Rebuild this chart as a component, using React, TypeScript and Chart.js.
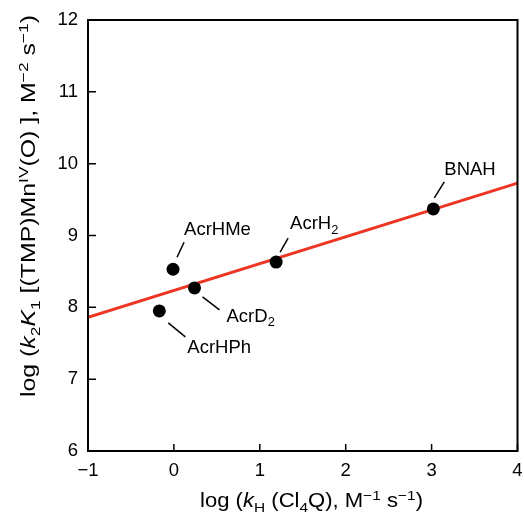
import React, { useEffect, useRef } from "react";
import { Chart, registerables } from "chart.js";

Chart.register(...registerables);

// ---- data ----
const compounds = ["AcrHPh", "AcrHMe", "AcrD2", "AcrH2", "BNAH"];
const logKH = [-0.17, -0.01, 0.24, 1.19, 3.02];
const logK2K1 = [7.95, 8.53, 8.27, 8.63, 9.37];
const fitX = [-1, 4];
const fitY = [7.86, 9.73];
const xTicks = [-1, 0, 1, 2, 3, 4];
const yTicks = [6, 7, 8, 9, 10, 11, 12];

// ---- style / layout ----
const FAMILY = '"Liberation Sans", Arial, Helvetica, sans-serif';
const FS = 18.5;
const TITLE_FS = 19.5;
// leader line [x1,y1,x2,y2] and text [left, centerY] offsets relative to the point (px)
const labelLayout: Record<string, { line: number[]; text: number[] }> = {
  AcrHPh: { line: [9, 12, 26, 26], text: [28, 35] },
  AcrHMe: { line: [4, -12, 11, -27], text: [11, -41] },
  AcrD2: { line: [8, 9, 25, 22], text: [32, 27] },
  AcrH2: { line: [4, -10, 12, -24], text: [14, -40] },
  BNAH: { line: [1, -11, 11, -27], text: [11, -41] },
};

type Seg = { t: string; it?: boolean; sub?: boolean; sup?: boolean };

const xTitle: Seg[] = [
  { t: "log (" },
  { t: "k", it: true },
  { t: "H", sub: true },
  { t: " (Cl" },
  { t: "4", sub: true },
  { t: "Q), M" },
  { t: "−1", sup: true },
  { t: " s" },
  { t: "−1", sup: true },
  { t: ")" },
];
const yTitle: Seg[] = [
  { t: "log (" },
  { t: "k", it: true },
  { t: "2", sub: true },
  { t: "K", it: true },
  { t: "1", sub: true },
  { t: " [(TMP)Mn" },
  { t: "IV", sup: true },
  { t: "(O) ], M" },
  { t: "−2", sup: true },
  { t: " s" },
  { t: "−1", sup: true },
  { t: ")" },
];

function labelSegs(name: string): Seg[] {
  const m = name.match(/^(.*?)(\d+)$/);
  if (m) return [{ t: m[1] }, { t: m[2], sub: true }];
  return [{ t: name }];
}

function segFont(s: Seg, fs: number) {
  const size = s.sub || s.sup ? fs * 0.7 : fs;
  return `${s.it ? "italic " : ""}${size}px ${FAMILY}`;
}
function measureSegs(ctx: CanvasRenderingContext2D, segs: Seg[], fs: number) {
  let w = 0;
  for (const s of segs) {
    ctx.font = segFont(s, fs);
    w += ctx.measureText(s.t).width;
  }
  return w;
}
function drawSegs(ctx: CanvasRenderingContext2D, segs: Seg[], x: number, y: number, fs: number) {
  ctx.textBaseline = "alphabetic";
  ctx.textAlign = "left";
  for (const s of segs) {
    ctx.font = segFont(s, fs);
    const dy = s.sub ? fs * 0.26 : s.sup ? -fs * 0.38 : 0;
    ctx.fillText(s.t, x, y + dy);
    x += ctx.measureText(s.t).width;
  }
}
// draw centred at (cx, baseline) stretched along the reading direction to targetW
function drawFitted(ctx: CanvasRenderingContext2D, segs: Seg[], targetW: number, fs: number) {
  const w = measureSegs(ctx, segs, fs);
  ctx.save();
  ctx.scale(targetW / w, 1);
  drawSegs(ctx, segs, -w / 2, 0, fs);
  ctx.restore();
}

const decorPlugin = {
  id: "decor",
  afterDraw(chart: any) {
    const ctx: CanvasRenderingContext2D = chart.ctx;
    const { left, right, top, bottom } = chart.chartArea;
    const xs = chart.scales.x;
    const ys = chart.scales.y;
    ctx.save();
    ctx.fillStyle = "#000";
    ctx.strokeStyle = "#000";

    // inward ticks
    ctx.lineWidth = 1.5;
    ctx.beginPath();
    for (const v of yTicks) {
      const py = ys.getPixelForValue(v);
      ctx.moveTo(left, py);
      ctx.lineTo(left + 8, py);
    }
    for (const v of xTicks) {
      const px = xs.getPixelForValue(v);
      ctx.moveTo(px, bottom);
      ctx.lineTo(px, bottom - 7);
    }
    ctx.stroke();

    // frame
    ctx.lineWidth = 2;
    ctx.strokeRect(left, top, right - left, bottom - top);

    // point labels with leader lines
    ctx.lineWidth = 1.5;
    compounds.forEach((name, i) => {
      const lay = labelLayout[name];
      if (!lay) return;
      const px = xs.getPixelForValue(logKH[i]);
      const py = ys.getPixelForValue(logK2K1[i]);
      ctx.beginPath();
      ctx.moveTo(px + lay.line[0], py + lay.line[1]);
      ctx.lineTo(px + lay.line[2], py + lay.line[3]);
      ctx.stroke();
      drawSegs(ctx, labelSegs(name), px + lay.text[0], py + lay.text[1] + FS * 0.36, FS);
    });

    // axis titles
    ctx.save();
    ctx.translate(311.5, 507);
    drawFitted(ctx, xTitle, 223, TITLE_FS);
    ctx.restore();

    ctx.save();
    ctx.translate(35, 206);
    ctx.rotate(-Math.PI / 2);
    drawFitted(ctx, yTitle, 382, TITLE_FS);
    ctx.restore();

    ctx.restore();
  },
};

export default function App() {
  const ref = useRef<HTMLCanvasElement | null>(null);
  useEffect(() => {
    document.body.style.margin = "0";
    if (!ref.current) return;
    const tickFont = { family: FAMILY, size: FS };
    const chart = new Chart(ref.current, {
      type: "scatter",
      data: {
        datasets: [
          {
            label: "compounds",
            data: logKH.map((x, i) => ({ x, y: logK2K1[i] })),
            backgroundColor: "#000",
            borderWidth: 0,
            pointRadius: 6.5,
            pointHoverRadius: 6.5,
            order: 0,
          },
          {
            label: "fit",
            data: fitX.map((x, i) => ({ x, y: fitY[i] })),
            showLine: true,
            borderColor: "#ee3524",
            borderWidth: 3,
            pointRadius: 0,
            pointHoverRadius: 0,
            order: 1,
          } as any,
        ],
      },
      options: {
        animation: false,
        responsive: false,
        events: [],
        layout: { padding: { top: 20, right: 5, left: 0, bottom: 0 } },
        plugins: { legend: { display: false }, tooltip: { enabled: false } },
        scales: {
          x: {
            type: "linear",
            min: -1,
            max: 4,
            afterFit: (s: any) => {
              s.height = 61;
              s.paddingLeft = 0;
              s.paddingRight = 0;
            },
            afterBuildTicks: (s: any) => {
              s.ticks = xTicks.map((v) => ({ value: v }));
            },
            grid: { display: false, drawTicks: false },
            border: { display: false },
            ticks: {
              color: "#000",
              font: tickFont,
              padding: 9,
              maxRotation: 0,
              callback: (v: any) => String(v).replace("-", "−"),
            },
          },
          y: {
            type: "linear",
            min: 6,
            max: 12,
            afterFit: (s: any) => {
              s.width = 88;
              s.paddingTop = 0;
              s.paddingBottom = 0;
            },
            afterBuildTicks: (s: any) => {
              s.ticks = yTicks.map((v) => ({ value: v }));
            },
            grid: { display: false, drawTicks: false },
            border: { display: false },
            ticks: {
              color: "#000",
              font: tickFont,
              padding: 10,
              callback: (v: any) => String(v).replace("-", "−"),
            },
          },
        },
      },
      plugins: [decorPlugin],
    });
    return () => chart.destroy();
  }, []);
  return (
    <div style={{ width: 524, height: 512 }}>
      <canvas ref={ref} width={524} height={512} style={{ display: "block" }} />
    </div>
  );
}
